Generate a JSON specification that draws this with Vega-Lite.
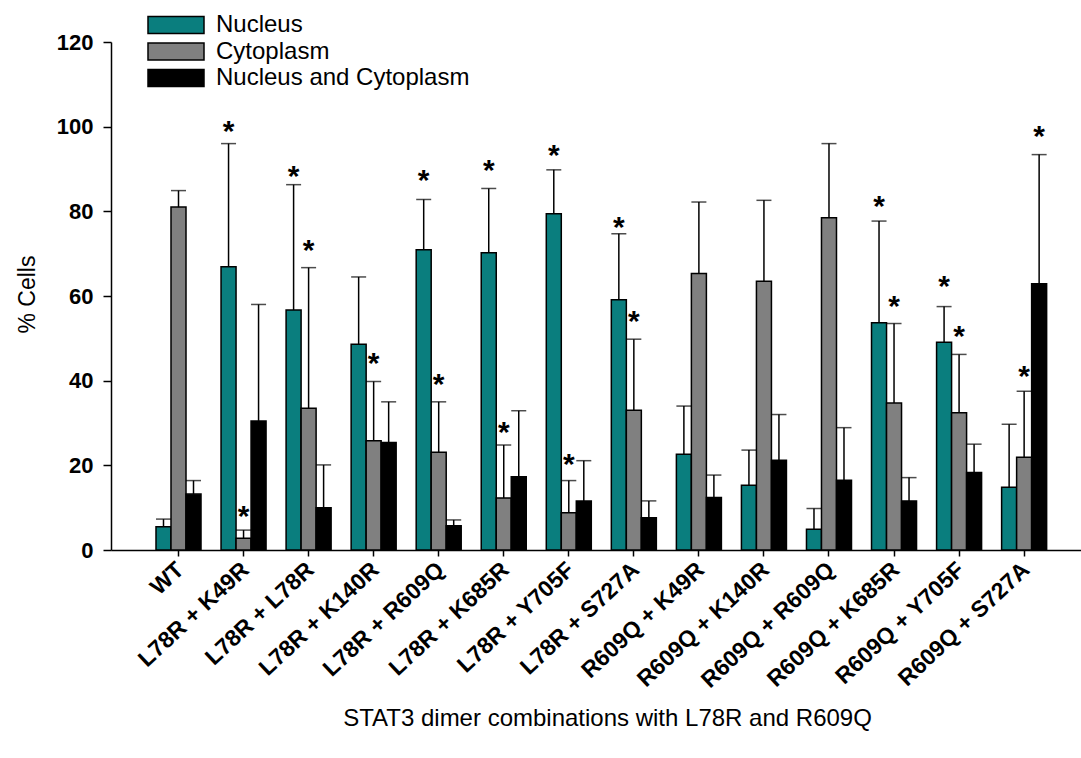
{
  "$schema": "https://vega.github.io/schema/vega-lite/v6.json",
  "width": 970,
  "height": 508,
  "autosize": {"type": "none"},
  "padding": {"left": 111, "top": 42, "right": 0, "bottom": 208},
  "background": "white",
  "config": {
    "view": {"stroke": null},
    "font": "Liberation Sans",
    "axis": {"domainColor": "black", "tickColor": "black", "labelColor": "black", "titleColor": "black", "grid": false, "domainWidth": 1.5, "tickWidth": 1.5},
    "legend": {"labelFont": "Liberation Sans"}
  },
  "data": {
    "values": [
      {"g": "WT", "s": "Nucleus", "v": 5.5, "u": 7.3, "star": null},
      {"g": "WT", "s": "Cytoplasm", "v": 81, "u": 84.9, "star": null},
      {"g": "WT", "s": "Nucleus and Cytoplasm", "v": 13.2, "u": 16.4, "star": null},
      {"g": "L78R + K49R", "s": "Nucleus", "v": 66.9, "u": 96, "star": 100.7},
      {"g": "L78R + K49R", "s": "Cytoplasm", "v": 2.8, "u": 4.7, "star": 9.8},
      {"g": "L78R + K49R", "s": "Nucleus and Cytoplasm", "v": 30.5, "u": 58, "star": null},
      {"g": "L78R + L78R", "s": "Nucleus", "v": 56.7, "u": 86.3, "star": 89.9},
      {"g": "L78R + L78R", "s": "Cytoplasm", "v": 33.5, "u": 66.7, "star": 72.5},
      {"g": "L78R + L78R", "s": "Nucleus and Cytoplasm", "v": 10, "u": 20.1, "star": null},
      {"g": "L78R + K140R", "s": "Nucleus", "v": 48.6, "u": 64.5, "star": null},
      {"g": "L78R + K140R", "s": "Cytoplasm", "v": 25.8, "u": 39.8, "star": 45.8},
      {"g": "L78R + K140R", "s": "Nucleus and Cytoplasm", "v": 25.4, "u": 35, "star": null},
      {"g": "L78R + R609Q", "s": "Nucleus", "v": 70.9, "u": 82.8, "star": 89.1},
      {"g": "L78R + R609Q", "s": "Cytoplasm", "v": 23.1, "u": 35, "star": 40.8},
      {"g": "L78R + R609Q", "s": "Nucleus and Cytoplasm", "v": 5.7, "u": 7.1, "star": null},
      {"g": "L78R + K685R", "s": "Nucleus", "v": 70.2, "u": 85.4, "star": 91.3},
      {"g": "L78R + K685R", "s": "Cytoplasm", "v": 12.3, "u": 24.8, "star": 29.5},
      {"g": "L78R + K685R", "s": "Nucleus and Cytoplasm", "v": 17.3, "u": 32.9, "star": null},
      {"g": "L78R + Y705F", "s": "Nucleus", "v": 79.4, "u": 89.8, "star": 95},
      {"g": "L78R + Y705F", "s": "Cytoplasm", "v": 8.8, "u": 16.4, "star": 22},
      {"g": "L78R + Y705F", "s": "Nucleus and Cytoplasm", "v": 11.6, "u": 21.1, "star": null},
      {"g": "L78R + S727A", "s": "Nucleus", "v": 59.1, "u": 74.7, "star": 78},
      {"g": "L78R + S727A", "s": "Cytoplasm", "v": 33, "u": 49.8, "star": 55.8},
      {"g": "L78R + S727A", "s": "Nucleus and Cytoplasm", "v": 7.6, "u": 11.6, "star": null},
      {"g": "R609Q + K49R", "s": "Nucleus", "v": 22.6, "u": 34, "star": null},
      {"g": "R609Q + K49R", "s": "Cytoplasm", "v": 65.3, "u": 82.2, "star": null},
      {"g": "R609Q + K49R", "s": "Nucleus and Cytoplasm", "v": 12.4, "u": 17.7, "star": null},
      {"g": "R609Q + K140R", "s": "Nucleus", "v": 15.3, "u": 23.6, "star": null},
      {"g": "R609Q + K140R", "s": "Cytoplasm", "v": 63.5, "u": 82.6, "star": null},
      {"g": "R609Q + K140R", "s": "Nucleus and Cytoplasm", "v": 21.2, "u": 32, "star": null},
      {"g": "R609Q + R609Q", "s": "Nucleus", "v": 4.9, "u": 9.8, "star": null},
      {"g": "R609Q + R609Q", "s": "Cytoplasm", "v": 78.5, "u": 96, "star": null},
      {"g": "R609Q + R609Q", "s": "Nucleus and Cytoplasm", "v": 16.5, "u": 28.9, "star": null},
      {"g": "R609Q + K685R", "s": "Nucleus", "v": 53.7, "u": 77.7, "star": 83},
      {"g": "R609Q + K685R", "s": "Cytoplasm", "v": 34.7, "u": 53.5, "star": 59.2},
      {"g": "R609Q + K685R", "s": "Nucleus and Cytoplasm", "v": 11.6, "u": 17.1, "star": null},
      {"g": "R609Q + Y705F", "s": "Nucleus", "v": 49.1, "u": 57.5, "star": 63.9},
      {"g": "R609Q + Y705F", "s": "Cytoplasm", "v": 32.4, "u": 46.2, "star": 52.1},
      {"g": "R609Q + Y705F", "s": "Nucleus and Cytoplasm", "v": 18.3, "u": 25, "star": null},
      {"g": "R609Q + S727A", "s": "Nucleus", "v": 14.8, "u": 29.7, "star": null},
      {"g": "R609Q + S727A", "s": "Cytoplasm", "v": 21.9, "u": 37.5, "star": 42.8},
      {"g": "R609Q + S727A", "s": "Nucleus and Cytoplasm", "v": 62.9, "u": 93.4, "star": 99.5}
    ]
  },
  "encoding": {
    "x": {
      "field": "g", "type": "nominal", "sort": null,
      "scale": {"paddingInner": 0.308, "paddingOuter": 0.61, "align": 0.567},
      "axis": {
        "title": "STAT3 dimer combinations with L78R and R609Q",
        "titleFontSize": 24, "titleFontWeight": "normal", "titleX": 496, "titleY": 168, "titleBaseline": "middle", "titleAlign": "center",
        "labelAngle": -43, "labelFontSize": 23, "labelFontWeight": "bold", "labelAlign": "right", "labelBaseline": "middle",
        "tickSize": 6, "labelPadding": 10, "labelOffset": 2, "domainWidth": 1.5
      }
    },
    "xOffset": {
      "field": "s", "type": "nominal",
      "scale": {"domain": ["Nucleus", "Cytoplasm", "Nucleus and Cytoplasm"], "paddingInner": 0, "paddingOuter": 0}
    }
  },
  "layer": [
    {
      "mark": {"type": "bar", "stroke": "black", "strokeWidth": 1.5},
      "encoding": {
        "y": {
          "field": "v", "type": "quantitative",
          "scale": {"domain": [0, 120], "nice": false},
          "axis": {
            "title": "% Cells", "titleFontSize": 23, "titleFontWeight": "normal", "titleX": -84, "titleY": 252, "titleAngle": -90, "titleAlign": "center", "titleBaseline": "middle",
            "values": [0, 20, 40, 60, 80, 100, 120],
            "labelFontSize": 22, "labelFontWeight": "bold", "tickSize": 8, "labelPadding": 10
          }
        },
        "color": {
          "field": "s", "type": "nominal",
          "scale": {"domain": ["Nucleus", "Cytoplasm", "Nucleus and Cytoplasm"], "range": ["#0a7e7e", "#808080", "#000000"]},
          "legend": {
            "title": null, "orient": "none", "legendX": 53, "legendY": -29,
            "symbolType": "M-4,-1.2H4V1.2H-4Z", "symbolSize": 196, "symbolStrokeColor": "black", "symbolStrokeWidth": 1.5, "symbolOpacity": 1,
            "labelFontSize": 24, "labelColor": "black", "labelOffset": 28, "rowPadding": 2.5, "padding": 0, "labelLimit": 400
          }
        }
      }
    },
    {
      "mark": {"type": "rule", "color": "black", "strokeWidth": 1.5},
      "encoding": {
        "y": {"field": "v", "type": "quantitative"},
        "y2": {"field": "u"}
      }
    },
    {
      "mark": {"type": "tick", "color": "black", "size": 15, "thickness": 1.5},
      "encoding": {
        "y": {"field": "u", "type": "quantitative"}
      }
    },
    {
      "transform": [{"filter": "isValid(datum.star)"}],
      "mark": {"type": "text", "text": "*", "fontSize": 30, "fontWeight": "bold", "color": "black", "baseline": "alphabetic", "dy": 17},
      "encoding": {
        "y": {"field": "star", "type": "quantitative"}
      }
    }
  ]
}
